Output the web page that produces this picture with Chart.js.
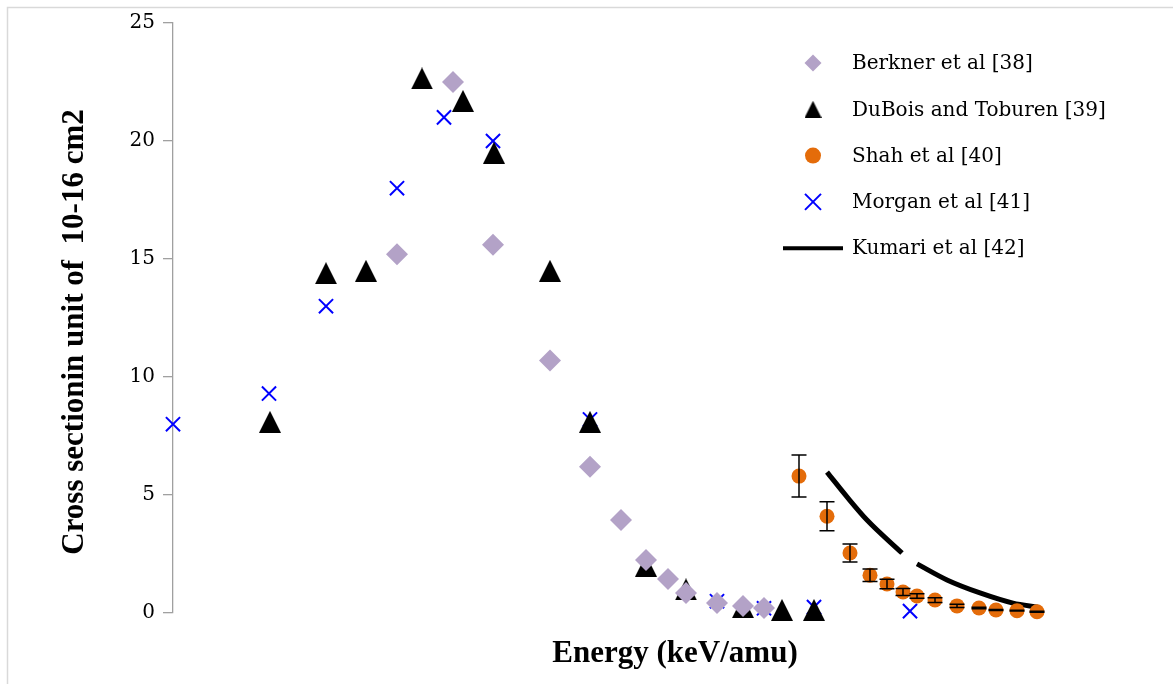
<!DOCTYPE html>
<html>
<head>
<meta charset="utf-8">
<script src="https://cdn.jsdelivr.net/npm/chart.js@4.4.0/dist/chart.umd.min.js"></script>
<style>
  html, body { margin: 0; padding: 0; background: #fff; }
  #wrap { width: 1173px; height: 684px; position: relative; }
</style>
</head>
<body>
<div id="wrap"><canvas id="chart"></canvas></div>
<script>
// energy axis has no tick labels in the source, so x is a relative position (0..100)
const seriesNames = ['Berkner et al [38]', 'DuBois and Toburen [39]', 'Shah et al [40]', 'Morgan et al [41]', 'Kumari et al [42]'];

const berknerX = [22.4, 28.0, 32.0, 37.7, 41.7, 44.8, 47.3, 49.5, 51.3, 54.4, 57.0, 59.1];
const berknerY = [15.2, 22.5, 15.6, 10.7, 6.2, 3.94, 2.25, 1.44, 0.85, 0.42, 0.3, 0.21];

const duboisX = [9.7, 15.3, 19.3, 24.9, 29.0, 32.1, 37.7, 41.7, 47.3, 51.3, 57.0, 60.9, 64.1];
const duboisY = [8.1, 14.4, 14.5, 22.65, 21.7, 19.5, 14.5, 8.1, 2.0, 1.0, 0.25, 0.13, 0.13];

const shahX = [62.6, 65.4, 67.7, 69.7, 71.4, 73.0, 74.4, 76.2, 78.4, 80.6, 82.3, 84.4, 86.4];
const shahY = [5.8, 4.1, 2.54, 1.6, 1.23, 0.89, 0.72, 0.55, 0.3, 0.21, 0.13, 0.1, 0.05];
const shahErr = [0.89, 0.61, 0.38, 0.26, 0.2, 0.15, 0.1, 0.1, 0.07, 0.03, 0.02, 0.02, 0.02];

const morganX = [0, 9.6, 15.3, 22.4, 27.1, 32.0, 41.7, 54.4, 59.1, 64.1, 73.7];
const morganY = [8.0, 9.3, 13.0, 18.0, 21.0, 20.0, 8.2, 0.5, 0.2, 0.25, 0.08];

const kumariX = [65.4, 67.4, 69.4, 72.9, 73.6, 74.4, 77.4, 80.7, 84.0, 86.5];
const kumariY = [5.97, 4.92, 3.94, 2.54, null, 2.08, 1.4, 0.85, 0.42, 0.25];

const yTicks = [0, 5, 10, 15, 20, 25];

const pts = (xs, ys) => xs.map((x, i) => ({ x: x, y: ys[i] }));

function triangleImage(size) {
    const c = document.createElement('canvas');
    c.width = size;
    c.height = size;
    const g = c.getContext('2d');
    g.fillStyle = '#000';
    g.beginPath();
    g.moveTo(size / 2, 0);
    g.lineTo(size, size);
    g.lineTo(0, size);
    g.closePath();
    g.fill();
    return c;
}
const triBig = triangleImage(22);
const triSmall = triangleImage(17);

const serif = '"DejaVu Serif", serif';
const boldSerif = '"Liberation Serif", "Times New Roman", serif';

const frame = {
    id: 'frame',
    beforeDraw(chart) {
        const ctx = chart.ctx;
        ctx.save();
        ctx.fillStyle = '#fff';
        ctx.fillRect(0, 0, chart.width, chart.height);
        ctx.strokeStyle = '#D9D9D9';
        ctx.lineWidth = 1.5;
        ctx.beginPath();
        ctx.moveTo(7.5, chart.height);
        ctx.lineTo(7.5, 7.5);
        ctx.lineTo(chart.width, 7.5);
        ctx.stroke();
        ctx.restore();
    }
};

const errorBars = {
    id: 'errorBars',
    afterDatasetsDraw(chart) {
        const ctx = chart.ctx;
        const xs = chart.scales.x, ys = chart.scales.y;
        ctx.save();
        ctx.strokeStyle = '#000';
        ctx.lineWidth = 1.5;
        shahX.forEach((x, i) => {
            const px = xs.getPixelForValue(x);
            const top = ys.getPixelForValue(shahY[i] + shahErr[i]);
            const bot = ys.getPixelForValue(shahY[i] - shahErr[i]);
            ctx.beginPath();
            ctx.moveTo(px, top); ctx.lineTo(px, bot);
            ctx.moveTo(px - 7.5, top); ctx.lineTo(px + 7.5, top);
            ctx.moveTo(px - 7.5, bot); ctx.lineTo(px + 7.5, bot);
            ctx.stroke();
        });
        ctx.restore();
    }
};

const labels = {
    id: 'labels',
    afterDraw(chart) {
        const ctx = chart.ctx;
        ctx.save();
        ctx.fillStyle = '#000';
        // axis titles
        ctx.font = 'bold 31px ' + boldSerif;
        ctx.textAlign = 'center';
        ctx.textBaseline = 'alphabetic';
        ctx.fillText('Energy (keV/amu)', 675, 662);
        ctx.save();
        ctx.translate(83, 332);
        ctx.rotate(-Math.PI / 2);
        ctx.fillText('Cross sectionin unit of  10-16 cm2', 0, 0);
        ctx.restore();

        // legend
        const mx = 813, tx = 852;
        ctx.font = '20px ' + serif;
        ctx.textAlign = 'left';
        ctx.textBaseline = 'middle';
        seriesNames.forEach((name, i) => {
            const y = 63 + i * 46.3;
            ctx.fillStyle = '#000';
            ctx.fillText(name, tx, y + 1);
            if (i === 0) {
                ctx.fillStyle = '#B3A2C7';
                ctx.beginPath();
                ctx.moveTo(mx, y - 8.5); ctx.lineTo(mx + 8.5, y);
                ctx.lineTo(mx, y + 8.5); ctx.lineTo(mx - 8.5, y);
                ctx.closePath();
                ctx.fill();
            } else if (i === 1) {
                ctx.drawImage(triSmall, mx - 8.5, y - 8.5);
            } else if (i === 2) {
                ctx.fillStyle = '#E46C0A';
                ctx.beginPath();
                ctx.arc(mx, y, 8, 0, Math.PI * 2);
                ctx.fill();
            } else if (i === 3) {
                ctx.strokeStyle = '#0000FF';
                ctx.lineWidth = 2;
                ctx.beginPath();
                ctx.moveTo(mx - 8, y - 8); ctx.lineTo(mx + 8, y + 8);
                ctx.moveTo(mx + 8, y - 8); ctx.lineTo(mx - 8, y + 8);
                ctx.stroke();
            } else {
                ctx.strokeStyle = '#000';
                ctx.lineWidth = 4;
                ctx.beginPath();
                ctx.moveTo(783, y); ctx.lineTo(843, y);
                ctx.stroke();
            }
        });
        ctx.restore();
    }
};

new Chart(document.getElementById('chart'), {
    type: 'scatter',
    data: {
        datasets: [
            {
                label: seriesNames[0],
                data: pts(berknerX, berknerY),
                pointStyle: 'rectRot',
                pointRadius: 11,
                pointBackgroundColor: '#B3A2C7',
                pointBorderColor: '#B3A2C7',
                pointBorderWidth: 0,
                clip: false
            },
            {
                label: seriesNames[1],
                data: pts(duboisX, duboisY),
                pointStyle: triBig,
                clip: false
            },
            {
                label: seriesNames[2],
                data: pts(shahX, shahY),
                pointStyle: 'circle',
                pointRadius: 7.5,
                pointBackgroundColor: '#E46C0A',
                pointBorderColor: '#E46C0A',
                pointBorderWidth: 0,
                clip: false
            },
            {
                label: seriesNames[3],
                data: pts(morganX, morganY),
                pointStyle: 'crossRot',
                pointRadius: 10,
                pointBorderColor: '#0000FF',
                pointBorderWidth: 2,
                clip: false
            },
            {
                label: seriesNames[4],
                data: pts(kumariX, kumariY),
                showLine: true,
                spanGaps: false,
                borderColor: '#000',
                borderWidth: 5,
                pointRadius: 0,
                cubicInterpolationMode: 'monotone',
                clip: false
            }
        ]
    },
    options: {
        responsive: true,
        maintainAspectRatio: false,
        animation: false,
        events: [],
        layout: { autoPadding: false, padding: { left: 0, right: 0, top: 23, bottom: 71 } },
        plugins: {
            legend: { display: false },
            tooltip: { enabled: false }
        },
        scales: {
            x: {
                type: 'linear',
                min: 0,
                max: 100,
                display: false
            },
            y: {
                min: 0,
                max: 25,
                afterFit(scale) { scale.width = 173; },
                afterBuildTicks(scale) { scale.ticks = yTicks.map(v => ({ value: v })); },
                border: { display: true, color: '#A0A0A0', width: 1.3 },
                grid: {
                    drawOnChartArea: false,
                    drawTicks: true,
                    tickLength: 10,
                    color: '#A0A0A0',
                    lineWidth: 1.3
                },
                ticks: {
                    color: '#000',
                    padding: 8,
                    font: { family: serif, size: 20 }
                }
            }
        }
    },
    plugins: [frame, errorBars, labels]
});
</script>
</body>
</html>
